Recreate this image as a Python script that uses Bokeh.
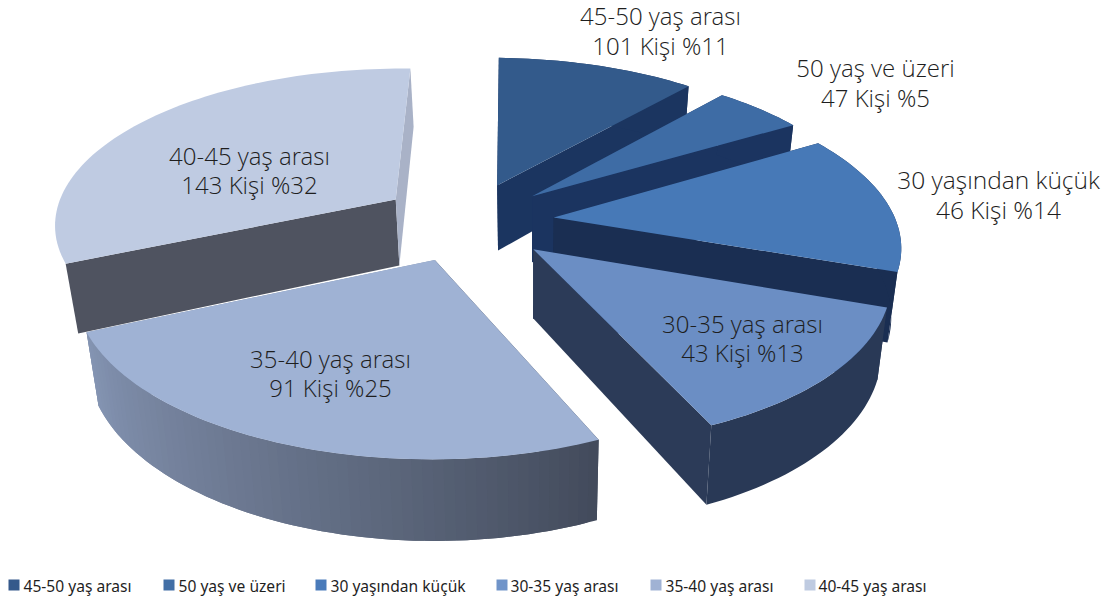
import numpy as np
from bokeh.plotting import figure
from bokeh.models import Range1d
from bokeh.core.properties import value
from bokeh.embed import file_html
from bokeh.resources import INLINE

# Survey answers: age bands, head counts and the percentages printed on the chart
age_bands = ["45-50 yaş arası", "50 yaş ve üzeri", "30 yaşından küçük",
             "30-35 yaş arası", "35-40 yaş arası", "40-45 yaş arası"]
people = [101, 47, 46, 43, 91, 143]
shares = [11, 5, 14, 13, 25, 32]

top_colors = ["#335a8b", "#3e6ca5", "#4779b7", "#6b8ec4", "#9fb2d4", "#bfcbe2"]
swatch_colors = ["#35598b", "#426fa6", "#4a7bba", "#7094c9", "#a0b2d4", "#bfcbe1"]
start_wall_colors = ["#1b3560", "#1b3460", "#1a2e52", "#1a2e52", "#3f4859", "#4f5360"]
end_wall_colors = ["#1b3560", "#1b3460", "#1a2e52", "#2c3b58", "#8292ae", "#a9b2c7"]
# Solid rim colour per slice; the 35-40 band is shaded and the 40-45 band's rim stays hidden
rim_colors = ["#1b3560", "#1b3460", "#1a2e52", "#293956", "shaded", None]
rim_shade_stops = ["#434b5c", "#5c677c", "#717e98", "#8494b2"]

# Plane-to-page perspective of the tilted pie, and how far slices sit from the centre
PROJECTION = np.array([[340.956, 76.369, 466.577],
                       [3.396, -123.525, 220.872],
                       [-0.00347, 0.14980, 1.0]])
EXPLODE = 0.255
DRAW_ORDER = [0, 1, 2, 3, 5, 4]

# Slice label placement: (centre x, first-line y, second-line y, font size)
label_anchors = [(660, 15, 45, "24px"), (875, 67, 97, "24px"), (998, 179, 209, "24.5px"),
                 (742, 323, 352, "24px"), (330, 358, 387, "24px"), (249, 155, 184, "24px")]
legend_swatch_x = [8, 163, 315, 496, 650, 804]
legend_text_x = [23, 178, 330, 510, 665, 818]


def direction(deg):
    a = np.radians(deg)
    return np.sin(a), np.cos(a)


def project(u, v):
    q = PROJECTION @ np.vstack([u, v, np.ones_like(u)])
    return q[0] / q[2], q[1] / q[2]


def drop(x, y):
    # Lower edge of a wall: the side faces converge slightly toward the viewer's feet
    return x - (x - 530) * 0.027, y + 66 + (y - 200) * 0.06


def hex_rgb(c):
    return np.array([int(c[i:i + 2], 16) for i in (1, 3, 5)], float)


def shade(t):
    pos = t * (len(rim_shade_stops) - 1)
    i = min(int(pos), len(rim_shade_stops) - 2)
    c = hex_rgb(rim_shade_stops[i]) * (1 - (pos - i)) + hex_rgb(rim_shade_stops[i + 1]) * (pos - i)
    return "#%02x%02x%02x" % tuple(int(round(k)) for k in c)


p = figure(width=1113, height=601, x_range=Range1d(0, 1113), y_range=Range1d(601, 0),
           toolbar_location=None, output_backend="svg", min_border=0, outline_line_color=None)
p.axis.visible = False
p.grid.visible = False


def poly(xs, ys, color):
    p.patch(list(xs), list(ys), fill_color=color, line_color=None)


edges = np.cumsum([0] + shares) * 3.6

for s in DRAW_ORDER:
    a0, a1 = edges[s], edges[s + 1]
    mu, mv = direction((a0 + a1) / 2)
    ox, oy = EXPLODE * mu, EXPLODE * mv
    th = np.linspace(a0, a1, int((a1 - a0) / 1.5) + 2)
    su, cv = direction(th)
    rim_x, rim_y = project(ox + su, oy + cv)
    cx, cy = project(np.array([ox]), np.array([oy]))
    low_cx, low_cy = drop(cx, cy)
    low_x, low_y = drop(rim_x, rim_y)

    # Side walls along the two straight edges
    poly([cx[0], rim_x[0], low_x[0], low_cx[0]], [cy[0], rim_y[0], low_y[0], low_cy[0]], start_wall_colors[s])
    poly([cx[0], rim_x[-1], low_x[-1], low_cx[0]], [cy[0], rim_y[-1], low_y[-1], low_cy[0]], end_wall_colors[s])

    # Curved outer wall: one face when solid, overlapping strips when shaded
    if rim_colors[s] == "shaded":
        n = len(th) - 1
        for i in range(n):
            j = min(i + 2, n)
            poly(np.r_[rim_x[i:j + 1], low_x[i:j + 1][::-1]],
                 np.r_[rim_y[i:j + 1], low_y[i:j + 1][::-1]], shade(i / max(n - 1, 1)))
    elif rim_colors[s] is not None:
        poly(np.r_[rim_x, low_x[::-1]], np.r_[rim_y, low_y[::-1]], rim_colors[s])

    # Top face
    poly(np.r_[cx, rim_x], np.r_[cy, rim_y], top_colors[s])

# Slice labels, two lines each
for s, (x, y1, y2, size) in enumerate(label_anchors):
    p.text([x, x], [y1, y2],
           text=[age_bands[s], f"{people[s]} Kişi %{shares[s]}"],
           text_font=value("Open Sans Light"), text_font_size=size,
           text_color="#1e1e1e", text_align="center", text_baseline="middle")

# Legend row along the bottom edge
p.rect([x + 5.5 for x in legend_swatch_x], [584.5] * 6, width=11, height=11,
       fill_color=swatch_colors, line_color=None)
p.text(legend_text_x, [585] * 6, text=age_bands, text_font=value("Noto Sans"),
       text_font_size="15.6px", text_color="#1f1f1f", text_align="left", text_baseline="middle")

open("out.html", "w").write(file_html(p, INLINE))
